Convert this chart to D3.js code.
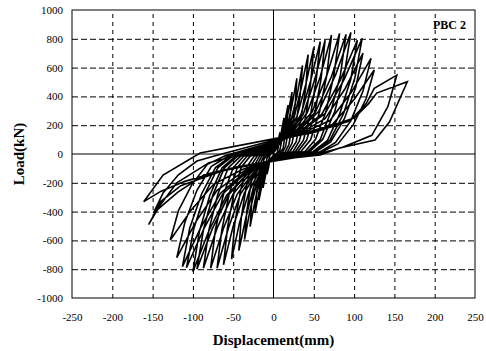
<!DOCTYPE html>
<html>
<head>
<meta charset="utf-8">
<script src="https://cdn.jsdelivr.net/npm/d3@7"></script>
<style>
body { margin:0; background:#fff; }
.tick text { font-family:"Liberation Serif", "Times New Roman", serif; font-size:11px; fill:#000; }
.grid line { stroke:#000; stroke-width:1; }
.grid path { display:none; }
.title { font-family:"Liberation Serif", "Times New Roman", serif; font-weight:bold; fill:#000; }
</style>
</head>
<body>
<script>
// tick values
var xTicks = [-250, -200, -150, -100, -50, 0, 50, 100, 150, 200, 250]
var yTicks = [-1000, -800, -600, -400, -200, 0, 200, 400, 600, 800, 1000]
var specimen = 'PBC 2'

// load-displacement record, one array per cycle [mm, kN]
var loops = [
  [[0,0],[0,8],[2,23],[5,52],[6,98],[8,150],[7,99],[6,52],[5,18],[4,3],[0,-8],
   [-2,-22],[-5,-49],[-6,-91],[-8,-140],[-7,-92],[-6,-49],[-5,-17],[-4,-3]],
  [[0,12],[4,37],[8,88],[10,163],[13,250],[12,165],[10,88],[8,30],[6,5],[0,-10],
   [-4,-34],[-8,-82],[-10,-153],[-13,-235],[-12,-155],[-10,-82],[-8,-28],[-6,-5]],
  [[0,18],[5,52],[10,119],[14,221],[18,340],[17,224],[14,119],[12,41],[8,7],[0,-14],
   [-5,-46],[-10,-112],[-14,-208],[-18,-320],[-17,-211],[-14,-112],[-12,-38],[-8,-6]],
  [[0,22],[7,65],[13,150],[18,280],[23,430],[21,284],[18,150],[15,52],[11,9],[0,-16],
   [-7,-57],[-13,-144],[-18,-267],[-23,-410],[-21,-271],[-18,-144],[-15,-49],[-11,-8]],
  [[0,28],[9,80],[17,184],[23,341],[29,525],[27,347],[23,184],[19,63],[14,10],[0,-20],
   [-9,-70],[-17,-177],[-23,-328],[-29,-505],[-27,-333],[-23,-177],[-19,-61],[-14,-10]],
  [[0,33],[11,95],[21,215],[29,400],[36,615],[33,406],[28,215],[23,74],[17,12],[0,-22],
   [-11,-82],[-21,-208],[-29,-387],[-36,-595],[-33,-393],[-28,-208],[-23,-71],[-17,-12]],
  [[0,38],[13,107],[25,242],[34,449],[43,690],[40,455],[34,242],[28,83],[20,14],[0,-25],
   [-13,-92],[-25,-235],[-34,-436],[-43,-670],[-40,-442],[-34,-235],[-28,-80],[-20,-13]],
  [[0,43],[15,117],[29,259],[40,481],[50,740],[46,488],[40,259],[32,89],[24,15],[0,-28],
   [-16,-101],[-30,-256],[-42,-475],[-52,-730],[-48,-482],[-41,-256],[-33,-88],[-24,-15]],
  [[0,48],[17,126],[34,273],[46,507],[58,780],[53,515],[46,273],[37,94],[27,16],[0,-30],
   [-19,-107],[-36,-270],[-50,-501],[-62,-770],[-57,-508],[-49,-270],[-40,-92],[-29,-15]],
  [[0,52],[19,131],[37,277],[51,514],[64,790],[59,521],[51,277],[41,95],[30,16],[0,-32],
   [-21,-111],[-41,-278],[-56,-515],[-70,-793],[-64,-523],[-55,-278],[-45,-95],[-33,-16]],
  [[0,56],[22,139],[42,289],[58,537],[72,826],[66,545],[57,289],[46,99],[34,17],[0,-34],
   [-23,-113],[-45,-278],[-62,-515],[-78,-793],[-72,-523],[-62,-278],[-50,-95],[-37,-16]],
  [[0,60],[25,144],[48,293],[66,544],[82,837],[75,552],[65,293],[52,100],[39,17],[0,-36],
   [-26,-115],[-50,-278],[-70,-515],[-87,-793],[-80,-523],[-69,-278],[-56,-95],[-41,-16]],
  [[0,63],[27,146],[52,291],[72,540],[90,830],[83,548],[71,291],[58,100],[42,17],[0,-38],
   [-29,-118],[-55,-280],[-76,-520],[-95,-800],[-87,-528],[-75,-280],[-61,-96],[-45,-16]],
  [[0,66],[29,150],[56,295],[77,549],[96,844],[88,557],[76,295],[61,101],[45,17],[0,-40],
   [-30,-122],[-58,-286],[-80,-531],[-100,-817],[-92,-539],[-79,-286],[-64,-98],[-47,-16]],
  [[0,70],[31,149],[60,277],[83,514],[104,790],[96,521],[82,277],[67,95],[49,16],[0,-40],
   [-32,-119],[-63,-277],[-86,-514],[-108,-790],[-99,-521],[-85,-277],[-69,-95],[-51,-16]],
  [[0,72],[33,152],[64,281],[88,522],[110,803],[101,530],[87,281],[70,96],[52,16],[0,-42],
   [-34,-120],[-66,-274],[-90,-508],[-113,-782],[-104,-516],[-89,-274],[-72,-94],[-53,-16]],
  [[0,75],[33,145],[64,245],[89,455],[111,700],[102,462],[88,245],[71,84],[52,14],[0,-44],
   [-36,-116],[-70,-252],[-96,-468],[-120,-720],[-110,-475],[-95,-252],[-77,-86],[-56,-14]],
  [[0,80],[36,146],[70,232],[97,432],[121,664],[111,438],[96,232],[77,80],[57,13],[0,-46],
   [-38,-106],[-74,-209],[-102,-388],[-128,-597],[-118,-394],[-101,-209],[-82,-72],[-60,-12]],
  [[0,85],[38,143],[73,204],[100,379],[125,583],[115,385],[99,204],[80,70],[59,12],[0,-48],
   [-45,-89],[-86,-144],[-119,-267],[-149,-410],[-137,-271],[-118,-144],[-95,-49],[-70,-8]],
  [[0,95],[50,150],[95,230],[115,350],[125,456],[153,548],[142,330],[122,130],[85,45],[55,0],[0,-50],
   [-60,-110],[-110,-190],[-140,-260],[-161,-331],[-137,-146],[-91,7]],
  [[0,105],[55,165],[100,250],[118,350],[128,423],[166,502],[144,224],[126,97],[82,42],[58,-7],[0,-42],
   [-65,-120],[-115,-220],[-140,-330],[-148,-420],[-155,-490],[-140,-350],[-120,-200],[-80,-60],[-30,10]]
]

var margin = {left:72, right:11, top:10, bottom:53}
var width = 486 - margin.left - margin.right
var height = 351 - margin.top - margin.bottom

var x = d3.scaleLinear().domain([-250, 250]).range([0, width])
var y = d3.scaleLinear().domain([-1000, 1000]).range([height, 0])

var svg = d3.select('body').append('svg')
    .attr('width', 486)
    .attr('height', 351)

var chart = svg.append('g')
    .attr('transform', 'translate(' + margin.left + ',' + margin.top + ')')

// dashed grid
chart.append('g')
    .attr('class', 'grid')
    .attr('transform', 'translate(0,' + height + ')')
    .call(d3.axisBottom(x).tickValues(xTicks.filter(function(d){ return d !== 0 && Math.abs(d) !== 250 }))
        .tickSize(-height).tickFormat(''))
    .selectAll('line').attr('stroke-dasharray', '4,4')

chart.append('g')
    .attr('class', 'grid')
    .call(d3.axisLeft(y).tickValues(yTicks.filter(function(d){ return d !== 0 && Math.abs(d) !== 1000 }))
        .tickSize(-width).tickFormat(''))
    .selectAll('line').attr('stroke-dasharray', '6,3')

// zero axes
chart.append('line')
    .attr('x1', x(0)).attr('x2', x(0))
    .attr('y1', 0).attr('y2', height)
    .attr('stroke', '#000').attr('stroke-width', 1)
chart.append('line')
    .attr('x1', 0).attr('x2', width)
    .attr('y1', y(0)).attr('y2', y(0))
    .attr('stroke', '#000').attr('stroke-width', 1)

// frame
chart.append('rect')
    .attr('width', width).attr('height', height)
    .attr('fill', 'none').attr('stroke', '#000').attr('stroke-width', 1)

// tick labels
var xAx = chart.append('g')
    .attr('transform', 'translate(0,' + height + ')')
    .call(d3.axisBottom(x).tickValues(xTicks).tickSize(0).tickPadding(15).tickFormat(function(d){ return String(d) }))
xAx.select('.domain').remove()

var yAx = chart.append('g')
    .call(d3.axisLeft(y).tickValues(yTicks).tickSize(0).tickPadding(9).tickFormat(function(d){ return String(d) }))
yAx.select('.domain').remove()

// hysteresis curve
var pts = [].concat.apply([], loops)
var line = d3.line()
    .x(function(d){ return x(d[0]) })
    .y(function(d){ return y(d[1]) })

chart.append('path')
    .datum(pts)
    .attr('d', line)
    .attr('fill', 'none')
    .attr('stroke', '#000')
    .attr('stroke-width', 1.6)
    .attr('stroke-linejoin', 'miter')

// titles
svg.append('text')
    .attr('class', 'title')
    .attr('x', margin.left + width/2)
    .attr('y', 345)
    .attr('text-anchor', 'middle')
    .style('font-size', '15px')
    .text('Displacement(mm)')

svg.append('text')
    .attr('class', 'title')
    .attr('transform', 'translate(24,' + (margin.top + height/2) + ') rotate(-90)')
    .attr('text-anchor', 'middle')
    .style('font-size', '15px')
    .text('Load(kN)')

chart.append('text')
    .attr('class', 'title')
    .attr('x', width - 9)
    .attr('y', 19)
    .attr('text-anchor', 'end')
    .style('font-size', '12px')
    .text(specimen)
</script>
</body>
</html>
